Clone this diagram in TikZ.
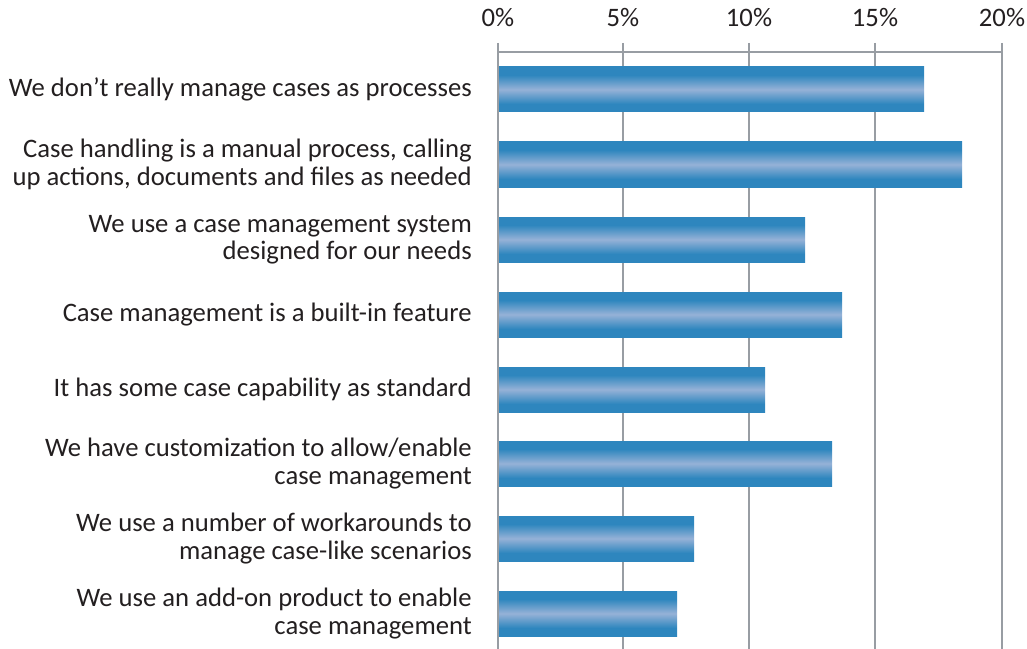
\documentclass[tikz,border=0pt]{standalone}
\usepackage{fontspec}
\setmainfont{Carlito}
\definecolor{barblue}{RGB}{46,134,190}
\definecolor{barlight}{RGB}{150,178,215}
\definecolor{gridgray}{RGB}{152,157,163}
\definecolor{txt}{RGB}{35,31,32}
\pgfdeclareverticalshading{barshade}{100bp}{color(0bp)=(barblue); color(34bp)=(barblue); color(50bp)=(barlight); color(66bp)=(barblue); color(100bp)=(barblue)}
\tikzset{
  lab/.style={anchor=east, align=right, inner sep=0pt, text=txt, font=\fontsize{20}{20.5}\selectfont},
  ticklab/.style={anchor=center, inner sep=0pt, text=txt, font=\fontsize{20}{22}\selectfont},
  grid/.style={draw=gridgray, line width=1.6pt},
  bar/.style={shading=barshade}
}
\begin{document}
\begin{tikzpicture}[x=0.75pt,y=-0.75pt]
\useasboundingbox (0,0) rectangle (1027,649);
% gridlines
\foreach \gx/\gl [count=\i] in {498/0\%,623/5\%,749/10\%,875/15\%,1002/20\%}{
  \draw[grid] (\gx,43) -- (\gx,649);
  \node[ticklab] (t\i) at (\gx,18) {\gl};
}
\draw[grid] (498,52) -- (1002,52);
% bars
\foreach \top/\xe [count=\i] in {67/924,142/962,217/805,292/842,367/765,441/832,516/694,591/677}{
  \shade[bar] (499,\top) rectangle (\xe,\top+45);
}
% labels
\node[lab] (l1) at (472,89.5) {We don’t really manage cases as processes};
\node[lab] (l2) at (472,164.5) {Case handling is a manual process, calling\\up actions, documents and files as needed};
\node[lab] (l3) at (472,239.5) {We use a case management system\\designed for our needs};
\node[lab] (l4) at (472,314.5) {Case management is a built-in feature};
\node[lab] (l5) at (472,389.5) {It has some case capability as standard};
\node[lab] (l6) at (472,463.5) {We have customization to allow/enable\\case management};
\node[lab] (l7) at (472,538.5) {We use a number of workarounds to\\manage case-like scenarios};
\node[lab] (l8) at (472,613.5) {We use an add-on product to enable\\case management};
\end{tikzpicture}
\end{document}
